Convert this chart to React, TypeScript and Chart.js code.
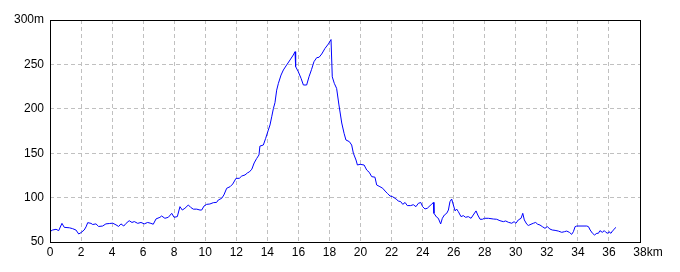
import React, { useEffect, useRef } from "react";
import { Chart, registerables } from "chart.js";

Chart.register(...registerables);

const distanceKm: number[] = [
  0.0, 0.02, 0.17, 0.39, 0.56, 0.77, 0.92, 1.25, 1.46, 1.67, 1.85, 2.0, 2.2, 2.32, 2.43, 2.64, 2.75, 2.96,
  3.13, 3.39, 3.6, 3.82, 4.04, 4.25, 4.42, 4.57, 4.75, 4.9, 5.1, 5.28, 5.43, 5.65, 5.86, 6.07, 6.29, 6.5,
  6.65, 6.83, 7.08, 7.19, 7.4, 7.62, 7.84, 7.99, 8.2, 8.37, 8.52, 8.69, 8.91, 9.06, 9.23, 9.45, 9.66, 9.77,
  9.92, 10.09, 10.3, 10.52, 10.73, 10.84, 11.06, 11.2, 11.38, 11.6, 11.77, 11.98, 12.19, 12.35, 12.56,
  12.73, 12.84, 13.0, 13.15, 13.31, 13.46, 13.52, 13.74, 13.89, 14.06, 14.17, 14.28, 14.39, 14.49, 14.6,
  14.71, 14.88, 15.03, 15.24, 15.46, 15.67, 15.78, 15.82, 15.99, 16.17, 16.32, 16.53, 16.68, 16.85, 17.0,
  17.18, 17.33, 17.5, 17.71, 17.93, 18.1, 18.18, 18.31, 18.46, 18.61, 18.79, 18.94, 19.06, 19.28, 19.43,
  19.54, 19.71, 19.8, 19.97, 20.23, 20.4, 20.56, 20.72, 20.93, 21.04, 21.25, 21.43, 21.58, 21.73, 21.9,
  22.07, 22.29, 22.43, 22.59, 22.72, 22.87, 23.01, 23.23, 23.4, 23.57, 23.72, 23.88, 24.0, 24.15, 24.3,
  24.48, 24.58, 24.69, 24.73, 24.9, 25.01, 25.16, 25.27, 25.4, 25.55, 25.66, 25.76, 25.87, 25.98, 26.09,
  26.19, 26.3, 26.47, 26.62, 26.77, 26.94, 27.12, 27.26, 27.44, 27.55, 27.7, 27.85, 27.98, 28.23, 28.55,
  28.77, 28.98, 29.2, 29.35, 29.52, 29.74, 29.89, 30.01, 30.16, 30.34, 30.45, 30.55, 30.71, 30.81, 30.98,
  31.13, 31.28, 31.41, 31.56, 31.71, 31.88, 32.03, 32.2, 32.35, 32.53, 32.74, 32.96, 33.13, 33.28, 33.45,
  33.6, 33.71, 33.82, 33.93, 34.57, 34.68, 34.79, 34.94, 35.07, 35.22, 35.32, 35.42, 35.57, 35.7, 35.8,
  35.92, 36.0, 36.13, 36.24, 36.34, 36.43,
];

const elevationM: number[] = [
  71, 62, 63.5, 64.3, 62.8, 71, 66.5, 66, 65, 63.5, 59, 60.6, 63.5, 67, 71.8, 71, 69.7, 70.4,
  67.5, 68, 70.4, 70.8, 71.2, 69.3, 67.5, 70.4, 68, 71, 74, 72, 73, 71, 72, 70.4, 72, 71,
  70, 76, 77.8, 79.3, 76.7, 77.8, 82.3, 77.8, 78.6, 89.8, 86, 88, 91.7, 89, 87, 87, 86, 86,
  90.5, 92.4, 92.8, 94.3, 94.6, 97.3, 99.2, 103, 110.5, 112.3, 115.3, 121.7, 121.7, 124.3, 125.5,
  128, 128.9, 132, 139, 144, 148, 158, 159.2, 166.7, 176, 181.8, 191, 200.5, 206.9, 221,
  228.7, 238, 243.7, 249.3, 255, 260.6, 264.3, 247.5, 241.8, 234.3, 226.8, 226.8, 236, 244.5, 253,
  257.6, 258, 261.7, 268, 273, 278, 236, 228.7, 223, 204.3, 184, 172.4, 164.9, 163, 159.2,
  149.9, 142.3, 136.7, 137.5, 136.7, 131, 128.5, 123.6, 123, 114.2, 112.3, 110.5, 107.4, 104.8, 101.8,
  101, 98.4, 96.2, 95.4, 92.4, 94.5, 91, 91, 92, 89.8, 93.5, 94.5, 89.8, 87.2, 88,
  91, 92.4, 94.6, 82.3, 78, 76.7, 70.3, 76.7, 80.4, 82.3, 86, 95.4, 98.4, 91.7, 85,
  87.1, 84.2, 78.6, 79.7, 77.8, 78.6, 76.7, 80.4, 85, 80.4, 75.6, 75.6, 76.7, 76.7, 75.9,
  75.6, 74, 72.9, 73.7, 72.2, 71.1, 72.9, 71.1, 74.8, 76.7, 82.3, 74.8, 70, 68.6, 70,
  71.1, 72, 70, 69.1, 67.3, 65.4, 67.3, 64.6, 63.5, 63.1, 62.3, 60.9, 61.6, 62.3, 60.9,
  58.6, 61.6, 67.3, 68, 68, 67.3, 63.5, 59.8, 57.9, 59.8, 59.8, 62.8, 60.9, 62.8, 60.9,
  59.8, 61.6, 59.8, 62.8, 64.2, 66.5,
];

const xTickStep = 2;
const xMin = 0;
const xMax = 38;
const yTickStep = 50;
const yMin = 50;
const yMax = 300;
const xUnit = "km";
const yUnit = "m";

const FONT = "'Liberation Sans', Arial, sans-serif";

export default function App() {
  const ref = useRef<HTMLCanvasElement | null>(null);

  useEffect(() => {
    if (!ref.current) return;
    const points = distanceKm.map((d, i) => ({ x: d, y: elevationM[i] }));

    const framePlugin = {
      id: "frame",
      afterDraw(chart: any) {
        const { ctx, chartArea } = chart;
        ctx.save();
        ctx.strokeStyle = "#000";
        ctx.lineWidth = 1;
        ctx.strokeRect(
          Math.round(chartArea.left) + 0.5,
          Math.round(chartArea.top) + 0.5,
          Math.round(chartArea.right - chartArea.left),
          Math.round(chartArea.bottom - chartArea.top)
        );
        // unit suffix right after the last x tick label
        const xs = chart.scales.x;
        ctx.font = `12px ${FONT}`;
        ctx.fillStyle = "#000";
        ctx.textBaseline = "middle";
        ctx.textAlign = "left";
        const w = ctx.measureText(String(xMax)).width;
        const px = xs.getPixelForValue(xMax);
        ctx.fillText(xUnit, px + w / 2, chartArea.bottom + 3 + 7.2);
        ctx.restore();
      },
    };

    const chart = new Chart(ref.current, {
      type: "line",
      data: {
        datasets: [
          {
            data: points,
            borderColor: "#0000ff",
            borderWidth: 1,
            pointRadius: 0,
            tension: 0,
            fill: false,
          },
        ],
      },
      options: {
        animation: false,
        responsive: false,
        parsing: false,
        layout: { padding: { top: 20, right: 40, left: 0, bottom: 0 } },
        plugins: { legend: { display: false }, tooltip: { enabled: false } },
        scales: {
          x: {
            type: "linear",
            min: xMin,
            max: xMax,
            afterFit: (s: any) => {
              s.height = 30;
            },
            border: { display: false, dash: [4, 3] },
            grid: { color: "#c0c0c0", lineWidth: 1, drawTicks: false },
            ticks: {
              stepSize: xTickStep,
              padding: 3,
              color: "#000",
              font: { family: FONT, size: 12 },
              maxRotation: 0,
              autoSkip: false,
            },
          },
          y: {
            type: "linear",
            min: yMin,
            max: yMax,
            afterFit: (s: any) => {
              s.width = 50;
            },
            border: { display: false, dash: [4, 3] },
            grid: { color: "#c0c0c0", lineWidth: 1, drawTicks: false },
            ticks: {
              stepSize: yTickStep,
              padding: 6,
              color: "#000",
              font: { family: FONT, size: 12 },
              callback: (v: any) => (v === yMax ? `${v}${yUnit}` : `${v}`),
            },
          },
        },
      },
      plugins: [framePlugin],
    } as any);

    return () => chart.destroy();
  }, []);

  return (
    <canvas
      ref={ref}
      width={680}
      height={272}
      style={{ position: "fixed", left: 0, top: 0, width: 680, height: 272, display: "block", background: "#fff" }}
    />
  );
}
